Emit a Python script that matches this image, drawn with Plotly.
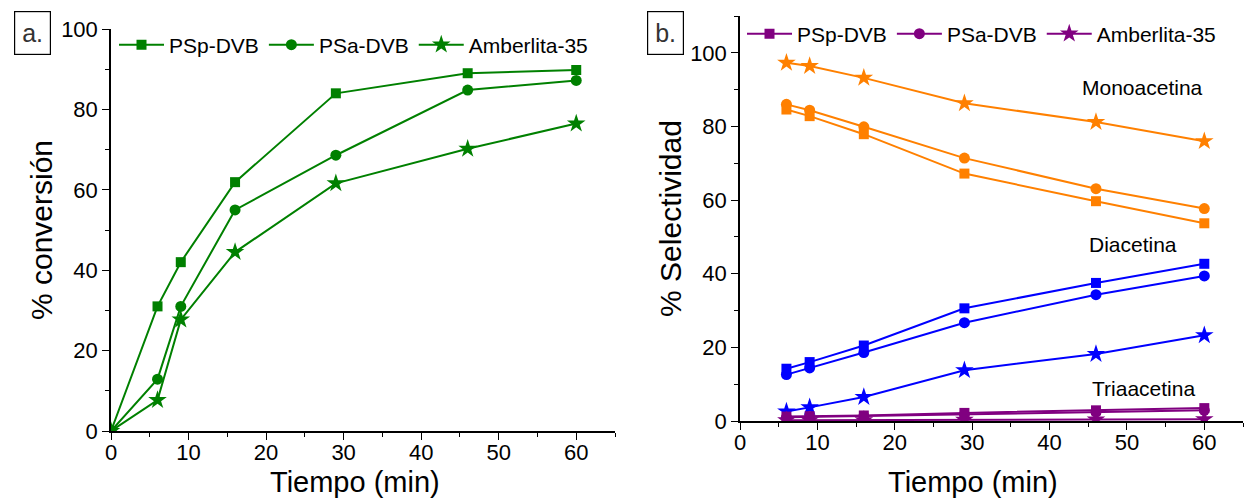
import plotly.graph_objects as go

# Reaction time (min)
t_conv = [0, 6, 9, 16, 29, 46, 60]
t_sel = [6, 9, 16, 29, 46, 60]

# Conversion (%)
conv_psp = [0, 31.0, 42.0, 61.9, 84.0, 89.0, 89.8]
conv_psa = [0, 12.9, 31.0, 55.0, 68.6, 84.8, 87.2]
conv_amb = [0, 7.7, 27.7, 44.5, 61.6, 70.2, 76.5]

# Selectivity (%) - monoacetin
mono_psp = [84.6, 82.8, 77.9, 67.2, 59.7, 53.7]
mono_psa = [86.0, 84.4, 79.9, 71.4, 63.1, 57.7]
mono_amb = [97.3, 96.4, 93.2, 86.3, 81.2, 76.0]

# Selectivity (%) - diacetin
di_psp = [14.2, 16.0, 20.5, 30.6, 37.5, 42.7]
di_psa = [12.6, 14.4, 18.6, 26.7, 34.3, 39.4]
di_amb = [2.6, 3.7, 6.5, 13.8, 18.2, 23.3]

# Selectivity (%) - triacetin
tri_psp = [1.2, 1.3, 1.5, 2.2, 2.9, 3.5]
tri_psa = [1.0, 1.1, 1.3, 1.8, 2.4, 2.9]
tri_amb = [0.2, 0.2, 0.2, 0.3, 0.4, 0.5]

names = ["PSp-DVB", "PSa-DVB", "Amberlita-35"]
symbols = ["square", "circle", "star"]
msizes = [10, 11, 14]

GREEN = "#008000"
ORANGE = "#FF8000"
BLUE = "#0000FF"
PURPLE = "#800080"
FONT = "Liberation Sans, Arial, sans-serif"

fig = go.Figure()

for name, sym, ms, ys in zip(names, symbols, msizes, [conv_psp, conv_psa, conv_amb]):
    fig.add_trace(go.Scatter(
        x=t_conv, y=ys, name=name, mode="lines+markers",
        line=dict(color=GREEN, width=2),
        marker=dict(symbol=sym, size=ms, color=GREEN),
        xaxis="x", yaxis="y", legend="legend"))

for group, color in [((mono_psp, mono_psa, mono_amb), ORANGE),
                     ((di_psp, di_psa, di_amb), BLUE)]:
    for name, sym, ms, ys in zip(names, symbols, msizes, group):
        fig.add_trace(go.Scatter(
            x=t_sel, y=ys, name=name, mode="lines+markers", showlegend=False,
            line=dict(color=color, width=2),
            marker=dict(symbol=sym, size=ms, color=color),
            xaxis="x2", yaxis="y2"))

for name, sym, ms, ys in zip(names, symbols, msizes, [tri_psp, tri_psa, tri_amb]):
    fig.add_trace(go.Scatter(
        x=t_sel, y=ys, name=name, mode="lines+markers",
        line=dict(color=PURPLE, width=2),
        marker=dict(symbol=sym, size=ms, color=PURPLE),
        xaxis="x2", yaxis="y2", legend="legend2"))

tickfont = dict(family=FONT, size=22, color="black")
titlefont = dict(family=FONT, size=29, color="black")

def bottom_axis(domain, anchor):
    return dict(domain=domain, anchor=anchor, range=[0, 65], tick0=0, dtick=10,
                ticks="outside", ticklen=7, tickwidth=1.2, tickcolor="black",
                minor=dict(ticks="outside", ticklen=4, dtick=5, tickcolor="black"),
                ticklabelstandoff=-6,
                showline=True, linecolor="black", linewidth=1.5,
                showgrid=False, zeroline=False, tickfont=tickfont)

def left_axis(domain, anchor, rng, title):
    return dict(domain=domain, anchor=anchor, range=rng, tick0=0, dtick=20,
                ticks="outside", ticklen=7, tickwidth=1.2, tickcolor="black",
                minor=dict(ticks="outside", ticklen=4, dtick=10, tickcolor="black"),
                showline=True, linecolor="black", linewidth=1.5,
                showgrid=False, zeroline=False, tickfont=tickfont,
                title=dict(text=title, font=dict(family=FONT, size=30, color="black"),
                           standoff=0))

def top_axis(over, anchor):
    return dict(overlaying=over, anchor=anchor, side="top", matches=over, range=[0, 65],
                tick0=0, dtick=10, ticks="inside", ticklen=6, tickcolor="black",
                minor=dict(ticks="inside", ticklen=4, dtick=5, tickcolor="black"),
                showticklabels=False, showline=True, linecolor="black", linewidth=1.5,
                showgrid=False, zeroline=False)

def right_axis(over, anchor, rng):
    return dict(overlaying=over, anchor=anchor, side="right", range=rng,
                tick0=0, dtick=20, ticks="inside", ticklen=6, tickcolor="black",
                minor=dict(ticks="inside", ticklen=4, dtick=10, tickcolor="black"),
                showticklabels=False, showline=True, linecolor="black", linewidth=1.5,
                showgrid=False, zeroline=False)

xa_dom = [111 / 1244, 615 / 1244]
ya_dom = [68 / 499, 470 / 499]
xb_dom = [740 / 1244, 1243 / 1244]
yb_dom = [78 / 499, 483 / 499]

legend_common = dict(orientation="h", xanchor="left", yanchor="middle",
                     bgcolor="rgba(0,0,0,0)", font=dict(family=FONT, size=21, color="black"),
                     itemwidth=45, tracegroupgap=0)

fig.update_layout(
    width=1244, height=499,
    margin=dict(l=0, r=0, t=0, b=0, autoexpand=False),
    plot_bgcolor="white", paper_bgcolor="white",
    font=dict(family=FONT, color="black"),
    xaxis=bottom_axis(xa_dom, "y"),
    yaxis=left_axis(ya_dom, "x", [0, 100], "% conversión"),
    xaxis2=bottom_axis(xb_dom, "y2"),
    yaxis2=left_axis(yb_dom, "x2", [0, 110], "% Selectividad"),
    xaxis3=top_axis("x", "y"),
    yaxis3=right_axis("y", "x", [0, 100]),
    xaxis4=top_axis("x2", "y2"),
    yaxis4=right_axis("y2", "x2", [0, 110]),
    legend=dict(x=114 / 1244, y=1 - 45 / 499, **legend_common),
    legend2=dict(x=742 / 1244, y=1 - 34 / 499, **legend_common),
    showlegend=True,
)

# Time-axis titles along the bottom edge
for xpx in [355, 973]:
    fig.add_annotation(text="Tiempo (min)", xref="paper", yref="paper", x=xpx / 1244, y=0,
                       xanchor="center", yanchor="bottom", yshift=-1, showarrow=False,
                       font=titlefont)

# Panel labels
for txt, xpx in [("a.", 32), ("b.", 665)]:
    fig.add_annotation(text=txt, xref="paper", yref="paper", x=xpx / 1244, y=1 - 32.5 / 499,
                       xanchor="center", yanchor="middle", showarrow=False,
                       font=dict(family=FONT, size=25, color="#333333"),
                       bordercolor="black", borderwidth=1.2, borderpad=7, bgcolor="white")

# Product group labels
for txt, xpx, ypx in [("Monoacetina", 1142, 87), ("Diacetina", 1133, 245), ("Triaacetina", 1143, 388)]:
    fig.add_annotation(text=txt, xref="paper", yref="paper", x=xpx / 1244, y=1 - ypx / 499,
                       xanchor="center", yanchor="middle", showarrow=False,
                       font=dict(family=FONT, size=21, color="black"))

fig.write_html("out.html")
